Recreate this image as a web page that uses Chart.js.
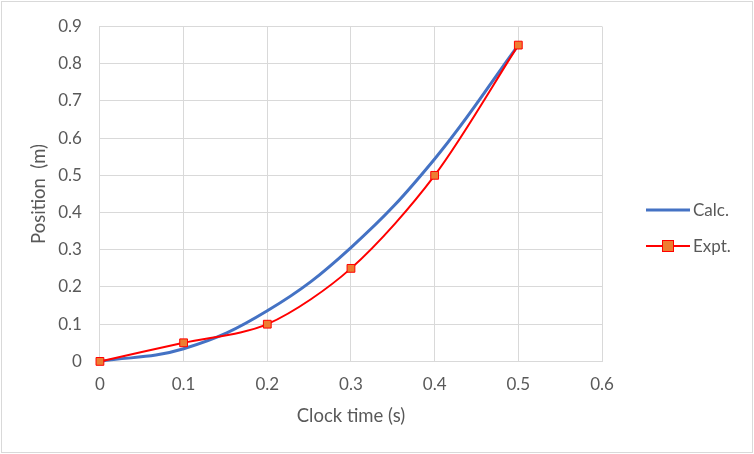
<!DOCTYPE html>
<html>
<head>
<meta charset="utf-8">
<script src="https://cdn.jsdelivr.net/npm/chart.js@4"></script>
<style>
  html, body { margin: 0; padding: 0; background: #fff; }
  #wrap { width: 754px; height: 454px; position: relative; }
</style>
</head>
<body>
<div id="wrap"><canvas id="chart"></canvas></div>
<script>
// Chart data
const clockTime = [0, 0.1, 0.2, 0.3, 0.4, 0.5];
const calcPos = [0, 0.034, 0.136, 0.306, 0.544, 0.85];
const exptPos = [0, 0.05, 0.1, 0.25, 0.5, 0.85];
const seriesNames = ["Calc.", "Expt."];

const toPoints = (xs, ys) => xs.map((x, i) => ({ x: x, y: ys[i] }));

const FONT = "Lato, 'Open Sans', sans-serif";
const TEXT = "#595959";
const GRID = "#d9d9d9";

// Draws the outer border and the Excel-like legend on the right
const frameAndLegend = {
  id: "frameAndLegend",
  beforeDraw(chart) {
    const ctx = chart.ctx;
    ctx.save();
    ctx.fillStyle = "#fff";
    ctx.fillRect(0, 0, chart.width, chart.height);
    ctx.strokeStyle = GRID;
    ctx.lineWidth = 1;
    ctx.strokeRect(1.5, 1.5, chart.width - 3, chart.height - 3);
    ctx.restore();
  },
  afterDraw(chart) {
    const ctx = chart.ctx;
    const ds = chart.data.datasets;
    const x0 = 646, x1 = 690;
    const rows = [210, 246];
    ctx.save();
    ds.forEach((d, i) => {
      const y = rows[i];
      ctx.strokeStyle = d.borderColor;
      ctx.lineWidth = d.borderWidth;
      ctx.beginPath();
      ctx.moveTo(x0, y);
      ctx.lineTo(x1, y);
      ctx.stroke();
      if (d.pointRadius > 0) {
        const r = d.pointRadius;
        const cx = (x0 + x1) / 2;
        ctx.fillStyle = d.pointBackgroundColor;
        ctx.fillRect(cx - r, y - r, 2 * r, 2 * r);
        ctx.strokeStyle = d.pointBorderColor;
        ctx.lineWidth = d.pointBorderWidth;
        ctx.strokeRect(cx - r, y - r, 2 * r, 2 * r);
      }
      ctx.fillStyle = TEXT;
      ctx.font = "17px " + FONT;
      ctx.textBaseline = "middle";
      ctx.fillText(d.label, x1 + 3, y + 1);
    });
    ctx.restore();
  }
};

new Chart(document.getElementById("chart"), {
  type: "scatter",
  data: {
    datasets: [
      {
        label: seriesNames[0],
        data: toPoints(clockTime, calcPos),
        showLine: true,
        borderColor: "#4472C4",
        borderWidth: 3,
        pointRadius: 0,
        tension: 0.4,
        clip: false,
        order: 2
      },
      {
        label: seriesNames[1],
        data: toPoints(clockTime, exptPos),
        showLine: true,
        borderColor: "#FF0000",
        borderWidth: 2,
        pointStyle: "rect",
        pointRadius: 5.5,
        pointBackgroundColor: "#ED7D31",
        pointBorderColor: "#FF0000",
        pointBorderWidth: 1,
        tension: 0.3,
        clip: false,
        order: 1
      }
    ]
  },
  options: {
    responsive: true,
    maintainAspectRatio: false,
    animation: false,
    layout: { padding: { left: 14, right: 152, top: 10, bottom: 23 } },
    plugins: { legend: { display: false }, tooltip: { enabled: false } },
    scales: {
      x: {
        type: "linear",
        min: 0,
        max: 0.6,
        ticks: { stepSize: 0.1, color: TEXT, font: { family: FONT, size: 17 }, padding: 13 },
        grid: { color: GRID, drawTicks: false },
        border: { color: GRID },
        title: { display: true, text: "Clock time (s)", color: TEXT, font: { family: FONT, size: 18.5 }, padding: { top: -3, bottom: 4 } }
      },
      y: {
        min: 0,
        max: 0.9,
        ticks: { stepSize: 0.1, color: TEXT, font: { family: FONT, size: 17, lineHeight: 1 }, padding: 18 },
        grid: { color: GRID, drawTicks: false },
        border: { color: GRID },
        title: { display: true, text: "Position  (m)", color: TEXT, font: { family: FONT, size: 18.5 }, padding: { top: 14, bottom: -10 } }
      }
    }
  },
  plugins: [frameAndLegend]
});
</script>
</body>
</html>
